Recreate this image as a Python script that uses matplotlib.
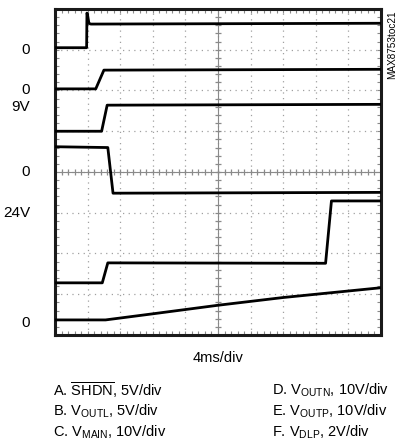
import matplotlib
matplotlib.use("Agg")
import matplotlib.pyplot as plt
import numpy as np
from matplotlib import font_manager

names = {f.name for f in font_manager.fontManager.ttflist}
FONT = "Liberation Sans Narrow" if "Liberation Sans Narrow" in names else "Liberation Sans"
plt.rcParams['font.family'] = [FONT, 'DejaVu Sans']
plt.rcParams['mathtext.fontset'] = 'custom'
plt.rcParams['mathtext.rm'] = FONT
plt.rcParams['mathtext.it'] = FONT
plt.rcParams['mathtext.bf'] = FONT

# ---- data (time in divisions, level in divisions) ----
a_t = [0.0, 0.97, 0.98, 1.0, 1.04, 1.10, 10.0]
a_v = [7.05, 7.05, 7.90, 7.85, 7.65, 7.63, 7.65]
b_t = [0.0, 1.25, 1.50, 10.0]
b_v = [6.04, 6.04, 6.50, 6.52]
c_t = [0.0, 1.43, 1.60, 10.0]
c_v = [5.00, 5.00, 5.64, 5.66]
d_t = [0.0, 1.62, 1.78, 10.0]
d_v = [4.62, 4.60, 3.48, 3.50]
e_t = [0.0, 1.45, 1.62, 8.30, 8.48, 10.0]
e_v = [1.28, 1.28, 1.77, 1.76, 3.29, 3.29]
f_t = [0.0, 1.55, 3.0, 5.0, 7.0, 10.0]
f_v = [0.37, 0.37, 0.52, 0.73, 0.92, 1.16]

left_labels = ["0", "0", "9V", "0", "24V", "0"]
left_levels = [7.0, 6.0, 5.6, 4.0, 3.0, 0.3]

legend_left = [r"A. $\mathrm{\overline{SHDN}}$, 5V/div",
               r"B. V$_{\mathrm{OUTL}}$, 5V/div",
               r"C. V$_{\mathrm{MAIN}}$, 10V/div"]
legend_right = [r"D. V$_{\mathrm{OUTN}}$, 10V/div",
                r"E. V$_{\mathrm{OUTP}}$, 10V/div",
                r"F. V$_{\mathrm{DLP}}$, 2V/div"]

W, H = 398, 444
fig = plt.figure(figsize=(W / 100, H / 100), dpi=100)
ax = fig.add_axes([55 / W, (H - 335) / H, 326 / W, 326 / H])
ax.set_xlim(0, 10)
ax.set_ylim(0, 8)

# grid
for x in range(1, 10):
    ax.axvline(x, color="#a0a0a0", lw=0.9, ls=(0, (1, 3.5)), zorder=1)
for y in range(1, 8):
    ax.axhline(y, color="#a0a0a0", lw=0.9, ls=(0, (1, 3.5)), zorder=1)
# center cross with ticks
ax.axvline(5, color="#8a8a8a", lw=0.8, zorder=1)
ax.axhline(4, color="#8a8a8a", lw=0.8, zorder=1)
tk = np.arange(0.2, 10, 0.2)
ax.plot(tk, np.full_like(tk, 4), ls="none", marker="|", ms=5, mew=0.9, color="#8a8a8a", zorder=1)
tky = np.arange(0.2, 8, 0.2)
ax.plot(np.full_like(tky, 5), tky, ls="none", marker="_", ms=5, mew=0.9, color="#8a8a8a", zorder=1)

# border ticks
ax.set_xticks(np.arange(0.2, 10, 0.2), minor=True)
ax.set_yticks(np.arange(0.2, 8, 0.2), minor=True)
ax.set_xticks([]); ax.set_yticks([])
ax.tick_params(which="minor", direction="in", length=3, width=0.8, color="#8a8a8a",
               top=True, right=True, bottom=True, left=True,
               labelbottom=False, labelleft=False)

for t, v in [(a_t, a_v), (b_t, b_v), (c_t, c_v), (d_t, d_v), (e_t, e_v), (f_t, f_v)]:
    ax.plot(t, v, color="black", lw=2.0, solid_joinstyle="round", zorder=3)

for s in ax.spines.values():
    s.set_linewidth(2.2)
    s.set_color("#1a1a1a")

# left labels
for lab, lv in zip(left_labels, left_levels):
    y_px = 335 - lv * 326 / 8
    fig.text(30 / W, 1 - y_px / H, lab, ha="right", va="center", fontsize=11)

fig.text(392 / W, 1 - 10 / H, "MAX8753toc21", rotation=90, ha="center", va="top", fontsize=7.2)
fig.text(218 / W, 1 - 358 / H, "4ms/div", ha="center", va="center", fontsize=10.5)

for i, (l, r) in enumerate(zip(legend_left, legend_right)):
    y_px = 390 + i * 21
    fig.text(53 / W, 1 - y_px / H, l, ha="left", va="center", fontsize=10.5)
    fig.text(272 / W, 1 - y_px / H, r, ha="left", va="center", fontsize=10.5)

fig.savefig("out.png", dpi=100)
